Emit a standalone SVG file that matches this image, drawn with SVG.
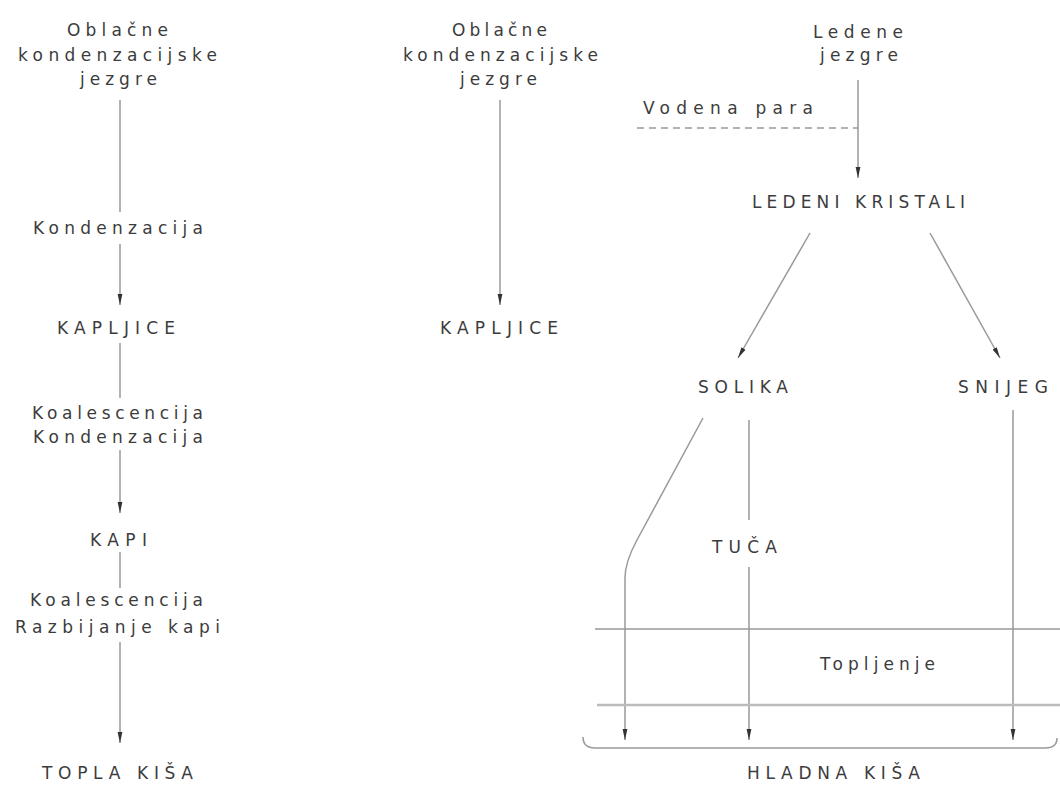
<svg xmlns="http://www.w3.org/2000/svg" width="1060" height="787" viewBox="0 0 1060 787">
<defs>
<marker id="arr" markerUnits="userSpaceOnUse" markerWidth="14" markerHeight="8" refX="11" refY="3" orient="auto">
<path d="M0,0.6 L11,3 L0,5.4 Z" fill="#333"/>
</marker>
<style>
text{font-family:"DejaVu Sans","Liberation Sans",sans-serif;font-size:17px;fill:#3c3c3c;text-anchor:middle}
.ln{stroke:#999;stroke-width:1.5;fill:none}
.ar{marker-end:url(#arr)}
.ds{stroke-dasharray:7 5}
</style>
</defs>
<rect width="1060" height="787" fill="#fff"/>
<g id="connectors">
<line class="ln" x1="120" y1="100" x2="120" y2="212"/>
<line class="ln ar" x1="120" y1="244" x2="120" y2="305"/>
<line class="ln" x1="120" y1="343" x2="120" y2="398"/>
<line class="ln ar" x1="120" y1="450" x2="120" y2="513"/>
<line class="ln" x1="120" y1="552" x2="120" y2="588"/>
<line class="ln ar" x1="120" y1="642" x2="120" y2="743"/>
<line class="ln ar" x1="500" y1="100" x2="500" y2="305"/>
<line class="ln ar" x1="858" y1="80" x2="858" y2="178"/>
<line class="ln ds" x1="637" y1="128" x2="858" y2="128"/>
<line class="ln ar" x1="810" y1="233" x2="738" y2="358"/>
<line class="ln ar" x1="930" y1="233" x2="1000" y2="358"/>
<path class="ln ar" d="M703,418 L637,540 Q625,562 625,578 L625,740"/>
<line class="ln" x1="749" y1="420" x2="749" y2="520"/>
<line class="ln ar" x1="749" y1="567" x2="749" y2="740"/>
<line class="ln ar" x1="1013" y1="410" x2="1013" y2="740"/>
<line class="ln" x1="595" y1="629" x2="1060" y2="629"/>
<line class="ln" x1="597" y1="705" x2="1060" y2="705" style="stroke-width:2.5;stroke:#bbb"/>
<path class="ln" d="M583,737 Q583,748 595,748 L1045,748 Q1057,748 1057,738"/>
</g>
<g id="n-oblacne1"><text x="117.5" y="36" textLength="101" lengthAdjust="spacing">Oblačne</text><text x="117.5" y="61" textLength="199" lengthAdjust="spacing">kondenzacijske</text><text x="118.5" y="85" textLength="77" lengthAdjust="spacing">jezgre</text></g>
<g id="l-kondenzacija1"><text x="118" y="234" textLength="170" lengthAdjust="spacing">Kondenzacija</text></g>
<g id="n-kapljice1"><text x="116" y="334" textLength="118" lengthAdjust="spacing">KAPLJICE</text></g>
<g id="l-koal1"><text x="117.5" y="419" textLength="171" lengthAdjust="spacing">Koalescencija</text><text x="118" y="443" textLength="170" lengthAdjust="spacing">Kondenzacija</text></g>
<g id="n-kapi"><text x="118.5" y="546" textLength="57" lengthAdjust="spacing">KAPI</text></g>
<g id="l-koal2"><text x="116.5" y="606" textLength="173" lengthAdjust="spacing">Koalescencija</text><text x="117.5" y="633" textLength="205" lengthAdjust="spacing">Razbijanje kapi</text></g>
<g id="n-topla"><text x="117.5" y="779" textLength="151" lengthAdjust="spacing">TOPLA KIŠA</text></g>
<g id="n-oblacne2"><text x="499.5" y="36" textLength="95" lengthAdjust="spacing">Oblačne</text><text x="500.5" y="61" textLength="195" lengthAdjust="spacing">kondenzacijske</text><text x="498.5" y="85" textLength="77" lengthAdjust="spacing">jezgre</text></g>
<g id="n-kapljice2"><text x="499" y="334" textLength="118" lengthAdjust="spacing">KAPLJICE</text></g>
<g id="n-ledene"><text x="858" y="38" textLength="90" lengthAdjust="spacing">Ledene</text><text x="859" y="61" textLength="78" lengthAdjust="spacing">jezgre</text></g>
<g id="l-vodena"><text x="728" y="114" textLength="170" lengthAdjust="spacing">Vodena para</text></g>
<g id="n-kristali"><text x="858.5" y="208" textLength="213" lengthAdjust="spacing">LEDENI KRISTALI</text></g>
<g id="n-solika"><text x="743" y="393" textLength="90" lengthAdjust="spacing">SOLIKA</text></g>
<g id="n-snijeg"><text x="1003" y="393" textLength="90" lengthAdjust="spacing">SNIJEG</text></g>
<g id="n-tuca"><text x="744.5" y="553" textLength="65" lengthAdjust="spacing">TUČA</text></g>
<g id="l-topljenje"><text x="877.5" y="670" textLength="115" lengthAdjust="spacing">Topljenje</text></g>
<g id="n-hladna"><text x="833.5" y="779" textLength="173" lengthAdjust="spacing">HLADNA KIŠA</text></g>
</svg>
